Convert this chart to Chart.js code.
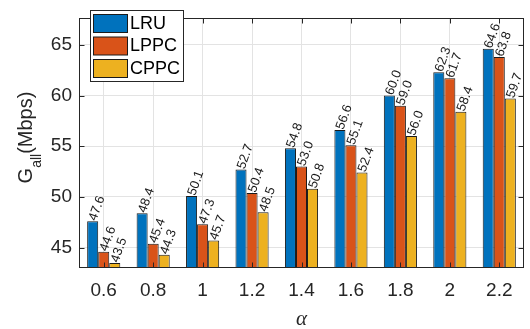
<!DOCTYPE html>
<html>
<head>
<meta charset="utf-8">
<script src="https://cdn.jsdelivr.net/npm/chart.js@4.4.1/dist/chart.umd.min.js"></script>
<style>
  html, body { margin: 0; padding: 0; background: #fff; }
  #my_chart { display: block; }
</style>
</head>
<body>
<canvas id="my_chart" width="530" height="329"></canvas>
<script>
var categories = ["0.6", "0.8", "1", "1.2", "1.4", "1.6", "1.8", "2", "2.2"];
var lruValues = [47.6, 48.4, 50.1, 52.7, 54.8, 56.6, 60.0, 62.3, 64.6];
var lppcValues = [44.6, 45.4, 47.3, 50.4, 53.0, 55.1, 59.0, 61.7, 63.8];
var cppcValues = [43.5, 44.3, 45.7, 48.5, 50.8, 52.4, 56.0, 58.4, 59.7];
var seriesNames = ["LRU", "LPPC", "CPPC"];
var yTicks = [45, 50, 55, 60, 65];

(function () {
    "use strict";
    var axisColor = "#262626";
    var colors = ["#0072BD", "#D95319", "#EDB120"];

    // box, inward tick marks, value labels, legend, axis titles
    var decorPlugin = {
        id: "decor",
        afterDatasetsDraw: function (chart) {
            var ctx = chart.ctx;
            var a = chart.chartArea;
            var l = Math.round(a.left) + 0.5, r = Math.round(a.right) - 0.5;
            var t = Math.round(a.top) + 0.5, b = Math.round(a.bottom) - 0.5;
            ctx.save();
            ctx.strokeStyle = axisColor;
            ctx.lineWidth = 1;
            ctx.strokeRect(l, t, r - l, b - t);

            var xs = chart.scales.x, ys = chart.scales.y;
            ctx.beginPath();
            categories.forEach(function (c, i) {
                var px = Math.round(xs.getPixelForValue(i)) + 0.5;
                ctx.moveTo(px, b); ctx.lineTo(px, b - 5);
                ctx.moveTo(px, t); ctx.lineTo(px, t + 5);
            });
            yTicks.forEach(function (v) {
                var py = Math.round(ys.getPixelForValue(v)) + 0.5;
                ctx.moveTo(l, py); ctx.lineTo(l + 5, py);
                ctx.moveTo(r, py); ctx.lineTo(r - 5, py);
            });
            ctx.stroke();

            // value labels
            ctx.fillStyle = "#1a1a1a";
            ctx.font = "13px 'Liberation Sans', Arial, sans-serif";
            ctx.textAlign = "left";
            ctx.textBaseline = "middle";
            chart.data.datasets.forEach(function (ds, di) {
                var meta = chart.getDatasetMeta(di);
                meta.data.forEach(function (bar, i) {
                    ctx.save();
                    ctx.translate(bar.x, bar.y - 1);
                    ctx.rotate(-70 * Math.PI / 180);
                    ctx.fillText(ds.data[i].toFixed(1), 0, 0);
                    ctx.restore();
                });
            });

            // legend
            ctx.fillStyle = "#fff";
            ctx.fillRect(90.5, 10.5, 93, 71);
            ctx.strokeStyle = axisColor;
            ctx.strokeRect(90.5, 10.5, 93, 71);
            ctx.font = "18px 'Liberation Sans', Arial, sans-serif";
            ctx.textBaseline = "middle";
            chart.data.datasets.forEach(function (ds, di) {
                var y = 14 + di * 22.5;
                ctx.fillStyle = ds.backgroundColor;
                ctx.fillRect(93.5, y + 0.5, 34, 18);
                ctx.strokeStyle = "#1a1a1a";
                ctx.strokeRect(93.5, y + 0.5, 34, 18);
                ctx.fillStyle = "#000";
                ctx.fillText(ds.label, 130, y + 10);
            });

            // y title with subscript
            ctx.save();
            ctx.translate(32, 137.5);
            ctx.rotate(-Math.PI / 2);
            ctx.fillStyle = axisColor;
            ctx.textBaseline = "alphabetic";
            var big = "20px 'Liberation Sans', Arial, sans-serif";
            var small = "14px 'Liberation Sans', Arial, sans-serif";
            ctx.font = big;
            var w1 = ctx.measureText("G").width;
            var w3 = ctx.measureText("(Mbps)").width;
            ctx.font = small;
            var w2 = ctx.measureText("all").width;
            var x0 = -(w1 + w2 + w3) / 2;
            ctx.font = big;
            ctx.fillText("G", x0, 0);
            ctx.font = small;
            ctx.fillText("all", x0 + w1, 9);
            ctx.font = big;
            ctx.fillText("(Mbps)", x0 + w1 + w2, 0);
            ctx.restore();

            // x title
            ctx.font = "italic 21px 'Liberation Serif', 'Times New Roman', serif";
            ctx.textAlign = "center";
            ctx.textBaseline = "alphabetic";
            ctx.fillStyle = axisColor;
            ctx.fillText("\u03b1", (a.left + a.right) / 2, 325);
            ctx.restore();
        }
    };

    var data = {
        labels: categories,
        datasets: [
            { label: seriesNames[0], data: lruValues, backgroundColor: colors[0] },
            { label: seriesNames[1], data: lppcValues, backgroundColor: colors[1] },
            { label: seriesNames[2], data: cppcValues, backgroundColor: colors[2] },
        ].map(function (ds) {
            ds.borderColor = "#1a1a1a";
            ds.borderWidth = 1;
            ds.barPercentage = 1.0;
            ds.categoryPercentage = 0.67;
            return ds;
        }),
    };

    var tickFont = { family: "'Liberation Sans', Arial, sans-serif", size: 19 };

    var options = {
        responsive: false,
        animation: false,
        layout: { padding: { top: 4, right: 6, left: 0, bottom: 0 } },
        plugins: {
            legend: { display: false },
            tooltip: { enabled: false },
        },
        scales: {
            x: {
                offset: true,
                grid: { offset: false, color: "#e3e3e3", drawTicks: false },
                border: { display: false },
                ticks: { color: axisColor, font: tickFont, padding: 11, maxRotation: 0 },
                afterFit: function (s) { s.height = 61; },
            },
            y: {
                min: 43,
                max: 67.6,
                grid: { color: "#e3e3e3", drawTicks: false },
                border: { display: false },
                ticks: { color: axisColor, font: tickFont, padding: 7 },
                afterBuildTicks: function (s) {
                    s.ticks = yTicks.map(function (v) { return { value: v }; });
                },
                afterFit: function (s) { s.width = 79; },
            },
        },
    };

    var ctx = document.getElementById("my_chart").getContext("2d");
    var myChart = new Chart(ctx, {
        type: "bar",
        data: data,
        options: options,
        plugins: [decorPlugin],
    });
})();
</script>
</body>
</html>
